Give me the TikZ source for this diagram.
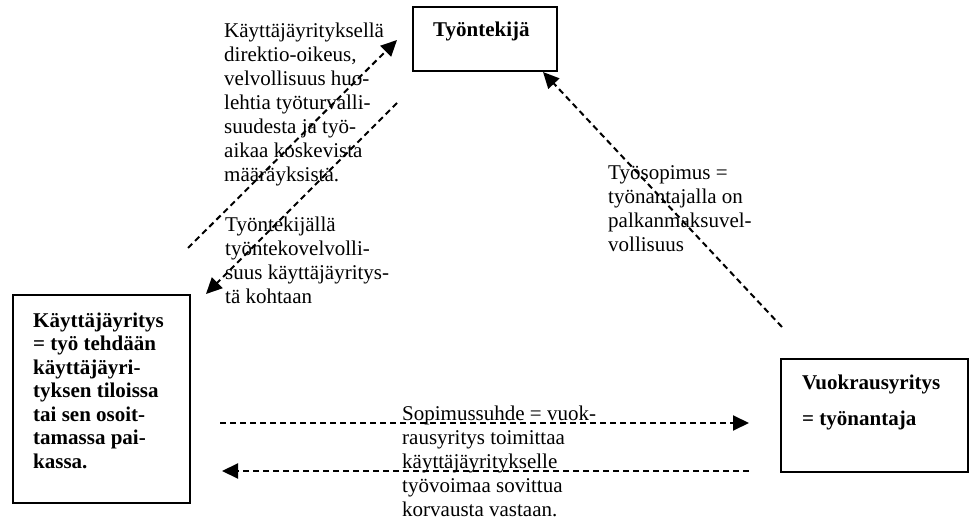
\documentclass[tikz,border=0pt]{standalone}
\usepackage{fontspec}
\setmainfont{Liberation Serif}
\usetikzlibrary{arrows.meta}
\begin{document}
\begin{tikzpicture}[x=1pt,y=-1pt,
  box/.style={draw, line width=2pt, rectangle, inner sep=0pt},
  % multi-line labels are anchored at the baseline of their last line
  lbl/.style={anchor=base west, align=left, inner sep=0pt,
    font=\fontsize{21}{24}\selectfont},
  blbl/.style={anchor=base west, align=left, inner sep=0pt,
    font=\fontsize{21}{23.5}\selectfont\bfseries},
  link/.style={line width=2pt, dash pattern=on 6pt off 4pt,
    -{Triangle[length=16pt,width=15pt]}}]
\useasboundingbox (0,0) rectangle (970,521);

% boxes
\node[box, minimum width=144pt, minimum height=64pt] (worker) at (485,39) {};
\node[box, minimum width=177pt, minimum height=208pt] (user) at (101.5,399) {};
\node[box, minimum width=187pt, minimum height=113pt] (agency) at (874.5,415.5) {};

% box texts
\node[blbl] (workerT) at (433,37) {Työntekijä};
\node[blbl] (userT) at (33,468) {Käyttäjäyritys\\= työ tehdään\\käyttäjäyri-\\tyksen tiloissa\\tai sen osoit-\\tamassa pai-\\kassa.};
\node[anchor=base west, align=left, inner sep=0pt,
  font=\fontsize{21}{36}\selectfont\bfseries] (agencyT) at (802,426) {Vuokrausyritys\\= työnantaja};

% relation texts
\node[lbl] (direct) at (224,182) {Käyttäjäyrityksellä\\direktio-oikeus,\\velvollisuus huo-\\lehtia työturvalli-\\suudesta ja työ-\\aikaa koskevista\\määräyksistä.};
\node[lbl] (duty) at (225,304) {Työntekijällä\\työntekovelvolli-\\suus käyttäjäyritys-\\tä kohtaan};
\node[lbl] (contract) at (608,252) {Työsopimus =\\työnantajalla on\\palkanmaksuvel-\\vollisuus};
\node[lbl] (supply) at (402,516) {Sopimussuhde = vuok-\\rausyritys toimittaa\\käyttäjäyritykselle\\työvoimaa sovittua\\korvausta vastaan.};

% connector ends
\coordinate (a1) at (188,248);
\coordinate (a2) at (397,40);
\coordinate (b1) at (397,103);
\coordinate (b2) at (206,294);
\coordinate (c1) at (782,327);
\coordinate (c2) at (543,72);
\coordinate (d1) at (220,423);
\coordinate (d2) at (749,423);
\coordinate (e1) at (749,471);
\coordinate (e2) at (222,471);

% connectors
\draw[link] (a1) -- (a2);
\draw[link] (b1) -- (b2);
\draw[link] (c1) -- (c2);
\draw[link] (d1) -- (d2);
\draw[link] (e1) -- (e2);
\end{tikzpicture}
\end{document}
